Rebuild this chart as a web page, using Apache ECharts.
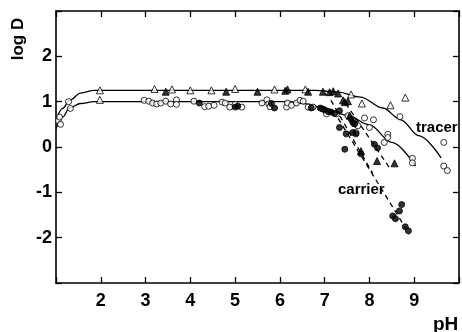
<!DOCTYPE html>
<html>
<head>
<meta charset="utf-8">
<script src="https://cdn.jsdelivr.net/npm/echarts@6/dist/echarts.min.js"></script>
<style>
html,body{margin:0;padding:0;background:#fff;}
#chart{width:462px;height:332px;}
</style>
</head>
<body>
<div id="chart"></div>
<script>
// ---- data ----
var xTickLabels = [2, 3, 4, 5, 6, 7, 8, 9];
var yTickLabels = [-2, -1, 0, 1, 2];

var openTriangles = [
  [1.98,1.25],[1.98,1.04],[3.2,1.28],[3.59,1.27],[4.0,1.25],[4.47,1.25],[5.0,1.28],
  [5.88,1.27],[6.57,1.27],[7.59,1.16],[7.83,0.96],[8.47,0.92],[8.8,1.09]
];
var filledTriangles = [
  [3.45,1.22],[4.8,1.22],[5.5,1.22],[6.12,1.24],[6.17,1.27],[6.63,1.22],[6.96,1.22],
  [7.11,1.21],[7.19,1.23],[7.3,1.18],[7.41,1.03],[7.45,0.99],[7.52,1.01],[7.56,0.69],
  [7.81,-0.09],[8.17,-0.31],[8.56,-0.36]
];
var openCircles = [
  [1.05,0.58],[1.1,0.5],[1.08,0.66],[1.28,1.0],[1.32,0.85],
  [2.97,1.03],[3.07,1.01],[3.16,0.97],[3.25,0.95],[3.34,0.97],[3.45,1.01],[3.56,0.95],
  [3.69,1.04],[3.69,0.94],[4.08,1.01],[4.32,0.89],[4.41,0.9],[4.53,0.92],[4.71,0.99],
  [4.78,0.97],[4.88,0.88],[5.0,0.94],[5.15,0.88],[5.6,0.97],[5.71,1.04],[5.75,0.95],
  [5.78,0.89],[6.15,0.88],[6.17,0.97],[6.26,0.92],[6.37,0.97],[6.45,1.03],[6.52,1.01],
  [6.63,0.88],[6.74,0.88],[7.04,0.73],[7.26,0.73],[7.52,0.69],[7.63,0.58],[7.67,0.51],
  [7.74,0.47],[7.7,0.32],[7.89,0.64],[8.0,0.43],[8.09,0.6],[8.33,0.1],[8.41,0.28],
  [8.41,0.21],[8.68,0.67],[8.96,-0.25],[8.96,-0.35],[9.66,0.1],[9.66,-0.42],[9.74,-0.52]
];
var filledCircles = [
  [4.2,0.97],[5.0,0.88],[5.06,0.9],[5.81,0.96],[5.88,0.86],[6.7,0.86],[6.9,0.86],
  [6.95,0.84],[7.0,0.82],[7.08,0.78],[7.14,0.77],[7.22,0.74],[7.33,0.8],[7.59,0.62],
  [7.63,0.54],[7.67,0.51],[7.33,0.43],[7.48,0.29],[7.63,0.32],[7.7,0.29],[7.45,-0.05],
  [7.81,-0.15],[8.11,0.06],[8.18,-0.02],[8.72,-1.27],[8.67,-1.41],[8.52,-1.52],
  [8.58,-1.58],[8.8,-1.76],[8.87,-1.85]
];
// tracer curves (solid)
var tracerUpper = [
  [1.0,0.6],[1.15,0.85],[1.3,1.03],[1.55,1.19],[1.85,1.25],[3.0,1.25],[5.0,1.25],
  [6.8,1.25],[7.3,1.21],[7.8,1.1],[8.3,0.86],[8.7,0.6],[9.1,0.25],[9.6,-0.24]
];
var tracerLower = [
  [1.0,0.4],[1.15,0.66],[1.3,0.86],[1.55,0.96],[1.85,1.0],[3.0,1.0],[5.0,1.0],
  [6.2,1.0],[6.6,0.95],[7.0,0.85],[7.5,0.7],[8.0,0.49],[8.5,0.1],[9.03,-0.42]
];
// carrier lines (dashed)
var carrier1 = [[7.14,1.03],[8.07,-0.58]];
var carrier2 = [[7.47,0.96],[8.47,-0.49]];
var carrier3 = [[7.3,0.63],[8.89,-1.92]];

// ---- chart ----
var FONT = 'Liberation Sans';
var chart = echarts.init(document.getElementById('chart'), null, {renderer:'canvas'});

function axisCommon(extra){
  return Object.assign({
    type:'value',
    splitLine:{show:false},
    axisLine:{show:true, onZero:false, lineStyle:{color:'#000', width:1.6}},
    axisTick:{show:true, inside:true, length:6, lineStyle:{color:'#000', width:1.3}}
  }, extra);
}

function lineSeries(data, dashed, smooth){
  return {
    type:'line', data:data, showSymbol:false, symbol:'none',
    smooth: smooth ? 0.35 : false, smoothMonotone: smooth ? 'x' : undefined,
    lineStyle:{color:'#000', width:1.3, type: dashed ? [5,4] : 'solid'},
    z:2, silent:true
  };
}
function scatterSeries(data, symbol, filled, size){
  return {
    type:'scatter', data:data, symbol:symbol, symbolSize:size,
    itemStyle:{color: filled ? '#000' : '#fff', borderColor:'#000', borderWidth:1},
    z:5, silent:true
  };
}

var option = {
  animation:false,
  backgroundColor:'#fff',
  grid:{left:56, top:11, width:405, height:272, containLabel:false},
  xAxis:[
    axisCommon({min:1, max:10, interval:1, position:'bottom',
      axisLabel:{show:true, margin:9, color:'#000', fontFamily:FONT, fontWeight:'bold', fontSize:18,
        formatter:function(v){ return xTickLabels.indexOf(v) >= 0 ? String(v) : ''; }}}),
    axisCommon({min:1, max:10, interval:1, position:'top', axisLabel:{show:false}})
  ],
  yAxis:[
    axisCommon({min:-3, max:3, interval:1, position:'left',
      axisLabel:{show:true, margin:4, color:'#000', fontFamily:FONT, fontWeight:'bold', fontSize:18,
        formatter:function(v){ return yTickLabels.indexOf(v) >= 0 ? String(v) : ''; }}}),
    axisCommon({min:-3, max:3, interval:1, position:'right', axisLabel:{show:false}})
  ],
  series:[
    lineSeries(tracerUpper, false, true),
    lineSeries(tracerLower, false, true),
    lineSeries(carrier1, true, false),
    lineSeries(carrier2, true, false),
    lineSeries(carrier3, true, false),
    scatterSeries(openCircles, 'circle', false, 6),
    scatterSeries(openTriangles, 'triangle', false, 7),
    scatterSeries(filledCircles, 'circle', true, 6),
    scatterSeries(filledTriangles, 'triangle', true, 7)
  ],
  graphic:[
    {type:'text', x:18, y:39, rotation:Math.PI/2,
      style:{text:'log D', fill:'#000', font:'bold 17px "Liberation Sans"', textAlign:'center', textVerticalAlign:'middle'}},
    {type:'text', x:433, y:325,
      style:{text:'pH', fill:'#000', font:'bold 19px "Liberation Sans"', textAlign:'left', textVerticalAlign:'middle'}},
    {type:'text', x:416, y:128,
      style:{text:'tracer', fill:'#000', font:'bold 15px "Liberation Sans"', textAlign:'left', textVerticalAlign:'middle'}},
    {type:'text', x:338, y:190,
      style:{text:'carrier', fill:'#000', font:'bold 15px "Liberation Sans"', textAlign:'left', textVerticalAlign:'middle'}}
  ]
};
chart.setOption(option);
</script>
</body>
</html>
